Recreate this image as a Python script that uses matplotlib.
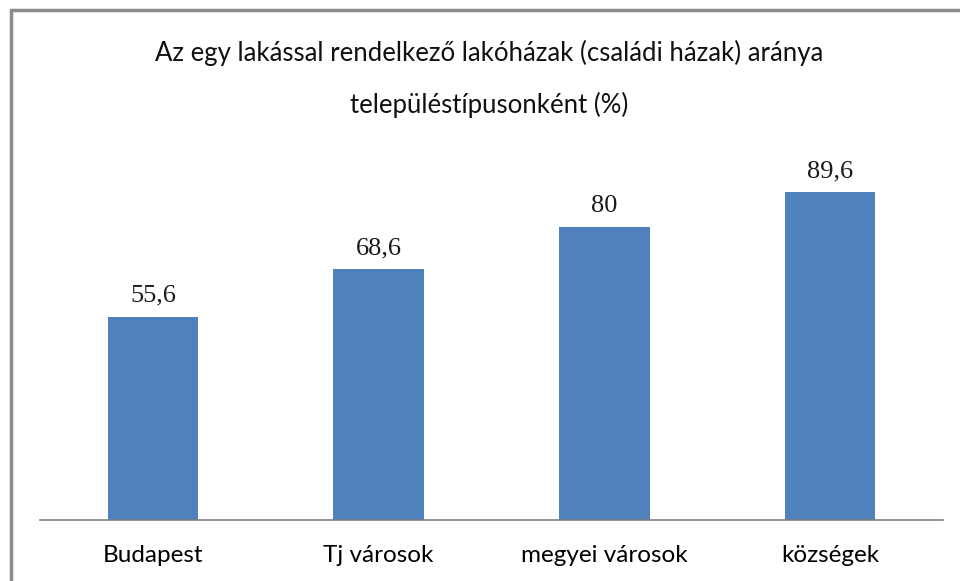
import matplotlib
matplotlib.use("Agg")
from matplotlib import pyplot as plt
from matplotlib.patches import Rectangle

categories = ["Budapest", "Tj városok", "megyei városok", "községek"]
values = [55.6, 68.6, 80, 89.6]
value_labels = ["55,6", "68,6", "80", "89,6"]

titleText = "Az egy lakással rendelkező lakóházak (családi házak) aránya\ntelepüléstípusonként (%)"

fig = plt.figure(figsize=(9.6, 5.81), dpi=100)
ax = fig.add_axes([40 / 960, 1 - 520 / 581, 903 / 960, 366 / 581])

xs = list(range(len(categories)))
bars = ax.bar(xs, values, width=0.4, color="#4F81BD")

for bar, lbl in zip(bars, value_labels):
    ax.annotate(lbl, (bar.get_x() + bar.get_width() / 2, bar.get_height()),
                xytext=(0, 7), textcoords="offset points",
                ha="center", va="bottom", fontsize=19,
                family=["Liberation Serif", "DejaVu Serif"], color="#1a1a1a")

ax.set_xlim(-0.5, len(categories) - 0.5)
ax.set_ylim(0, 100)
ax.set_xticks(xs)
ax.set_xticklabels(categories, fontsize=17.5, family=["Lato", "DejaVu Sans"])
ax.tick_params(axis="x", length=0, pad=18)
ax.set_yticks([])
for side in ["left", "right", "top"]:
    ax.spines[side].set_visible(False)
ax.spines["bottom"].set_color("#7f7f7f")
ax.spines["bottom"].set_linewidth(1.2)

fig.text(0.51, 1 - 79 / 581, titleText, ha="center", va="center", fontsize=18.5,
         linespacing=2.25, family=["Lato", "DejaVu Sans"], color="#111111")

# chart frame (only left and top edges visible in the crop)
fig.patches.append(Rectangle((11 / 960, -0.1), 1.2, 1 - 10 / 581 + 0.1,
                             transform=fig.transFigure, fill=False,
                             edgecolor="#8c8c8c", linewidth=2.5))

plt.savefig("out.png", dpi=100)
